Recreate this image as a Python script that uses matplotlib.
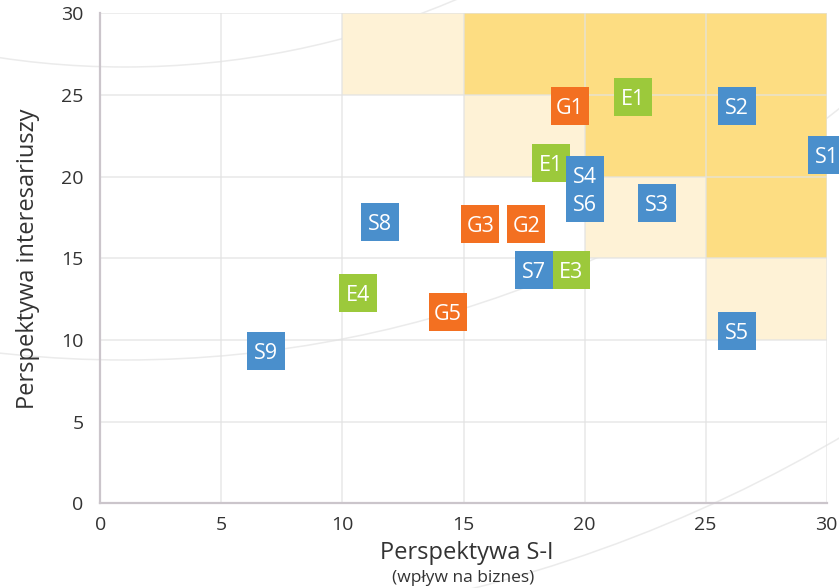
import matplotlib
matplotlib.use("Agg")
import matplotlib.pyplot as plt
from matplotlib.patches import Rectangle, Circle

plt.rcParams["font.family"] = ["Open Sans", "DejaVu Sans"]

# --- data -------------------------------------------------------------
s_labels = ["S1", "S2", "S3", "S4", "S5", "S6", "S7", "S8", "S9"]
s_x = [30.0, 26.3, 23.0, 20.0, 26.3, 20.0, 17.9, 11.55, 6.85]
s_y = [21.3, 24.3, 18.4, 20.1, 10.55, 18.4, 14.3, 17.2, 9.35]

g_labels = ["G1", "G2", "G3", "G5"]
g_x = [19.4, 17.6, 15.7, 14.35]
g_y = [24.3, 17.1, 17.1, 11.7]

e_labels = ["E1", "E1", "E3", "E4"]
e_x = [22.0, 18.6, 19.45, 10.65]
e_y = [24.9, 20.85, 14.3, 12.9]

# priority zones: (x0, x1, y0, y1)
zones_high = [(15, 30, 25, 30), (20, 30, 20, 25), (25, 30, 15, 20)]
zones_mid = [(10, 15, 25, 30), (15, 20, 20, 25), (20, 25, 15, 20), (25, 30, 10, 15)]

ticks = [0, 5, 10, 15, 20, 25, 30]

# --- styling ----------------------------------------------------------
BLUE = "#4a8fcc"
ORANGE = "#f37021"
GREEN = "#9cc93b"
GOLD = "#fddd82"
CREAM = "#fef2d6"
TEXT = "#333333"

W, H = 839, 588
fig = plt.figure(figsize=(W / 100, H / 100), dpi=100)
fig.patch.set_facecolor("white")

# decorative concentric rings behind the plot
bg = fig.add_axes([0, 0, 1, 1], zorder=-1)
bg.set_xlim(0, W)
bg.set_ylim(H, 0)
bg.axis("off")
for r in (847, 1140, 1412):
    bg.add_patch(Circle((125, -780), r, fill=False, ec="#ebebeb", lw=1.1))

ax = fig.add_axes([100.3 / W, 84.7 / H, 726.4 / W, 490 / H], zorder=1)
ax.set_facecolor("none")
ax.set_xlim(0, 30)
ax.set_ylim(0, 30)

for x0, x1, y0, y1 in zones_mid:
    ax.add_patch(Rectangle((x0, y0), x1 - x0, y1 - y0, fc=CREAM, ec="none", zorder=0.3))
for x0, x1, y0, y1 in zones_high:
    ax.add_patch(Rectangle((x0, y0), x1 - x0, y1 - y0, fc=GOLD, ec="none", zorder=0.3))

ax.set_axisbelow(True)
ax.set_xticks(ticks)
ax.set_yticks(ticks)
ax.grid(True, color="#e2e2e2", lw=1.1, alpha=0.8)

for side in ("top", "right"):
    ax.spines[side].set_visible(False)
for side in ("left", "bottom"):
    ax.spines[side].set_color("#cbc5cb")
    ax.spines[side].set_linewidth(1.6)
    ax.spines[side].set_zorder(2)

ax.tick_params(length=0, labelsize=14, colors=TEXT)
ax.tick_params(axis="x", pad=9)
ax.tick_params(axis="y", pad=12)

MS = 27.2 ** 2


def draw_group(xs, ys, labels, color, z):
    ax.scatter(xs, ys, s=MS, marker="s", c=color, linewidths=0, zorder=z, clip_on=False)
    for x, y, t in zip(xs, ys, labels):
        ax.text(x, y, t, color="white", fontsize=15.5, ha="center", va="center_baseline",
                zorder=z + 0.1, clip_on=False)


draw_group(e_x, e_y, e_labels, GREEN, 3)
draw_group(g_x, g_y, g_labels, ORANGE, 4)
draw_group(s_x, s_y, s_labels, BLUE, 5)

ax.set_ylabel("Perspektywa interesariuszy", fontsize=17, color=TEXT)
ax.yaxis.set_label_coords(-0.083, 0.5)
ax.text(0.505, -0.102, "Perspektywa S-I", transform=ax.transAxes, ha="center", va="center",
        fontsize=17, color=TEXT)
ax.text(0.5, -0.153, "(wpływ na biznes)", transform=ax.transAxes, ha="center", va="center",
        fontsize=12.5, color=TEXT)

fig.savefig("out.png", dpi=100, facecolor="white")
